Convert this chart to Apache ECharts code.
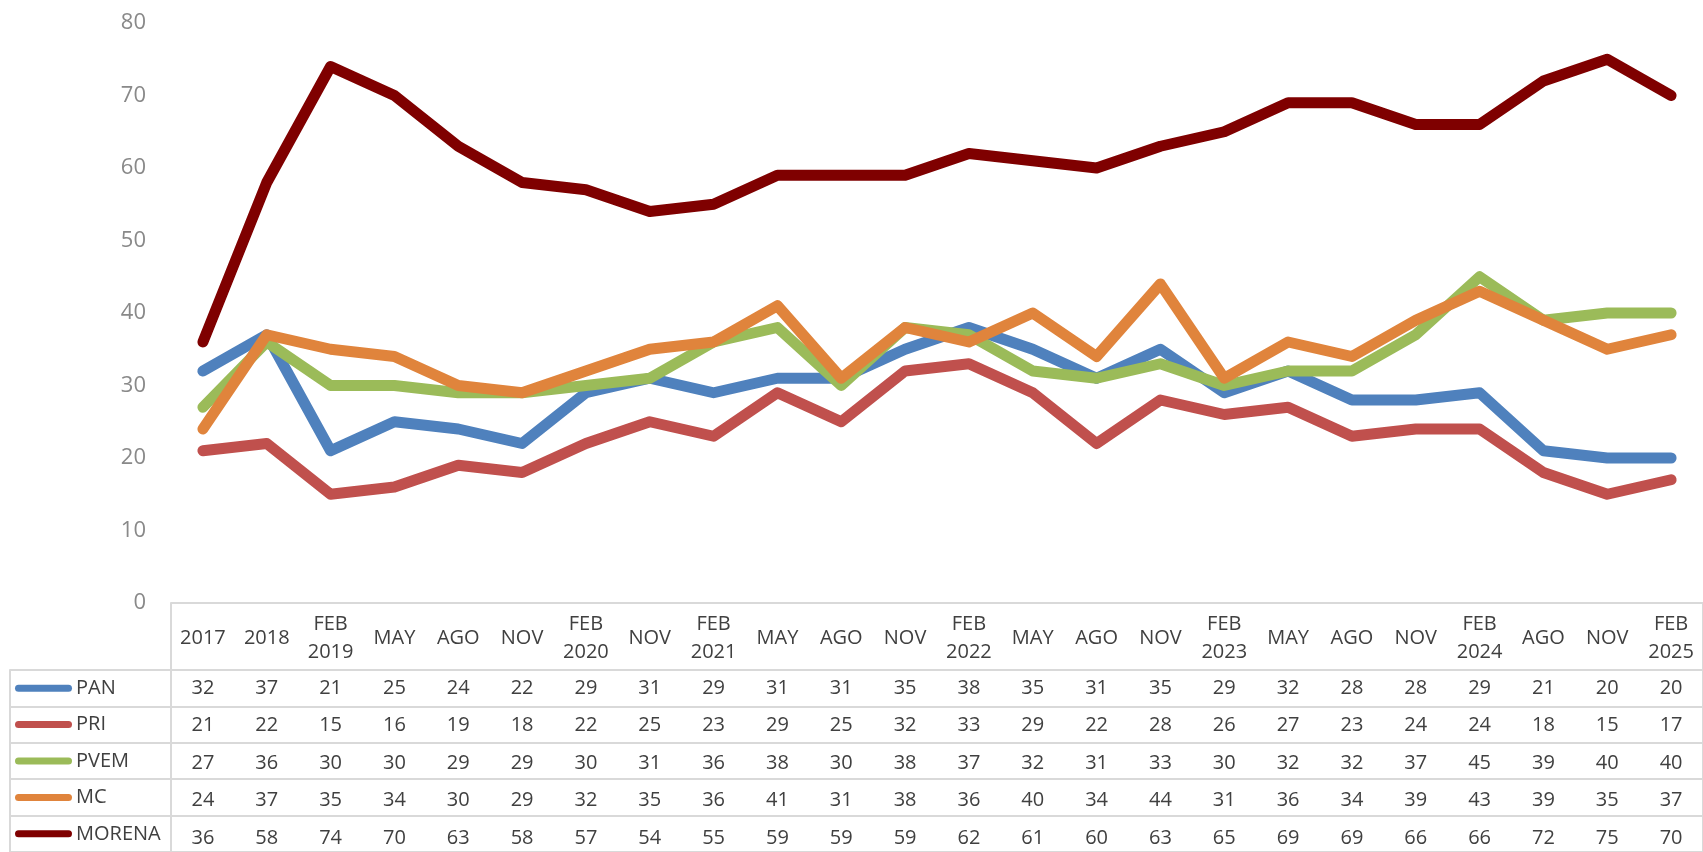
<!DOCTYPE html>
<html>
<head>
<meta charset="utf-8">
<script src="https://cdn.jsdelivr.net/npm/echarts@6/dist/echarts.min.js"></script>
<style>
  html, body { margin: 0; padding: 0; background: #fff; }
  #chartbox { width: 1703px; height: 852px; }
</style>
</head>
<body>
<div id="chartbox"></div>
<script>
var categories = ["2017", "2018", "FEB\n2019", "MAY", "AGO", "NOV", "FEB\n2020", "NOV", "FEB\n2021", "MAY", "AGO", "NOV",
    "FEB\n2022", "MAY", "AGO", "NOV", "FEB\n2023", "MAY", "AGO", "NOV", "FEB\n2024", "AGO", "NOV", "FEB\n2025"];
var pan = [32, 37, 21, 25, 24, 22, 29, 31, 29, 31, 31, 35, 38, 35, 31, 35, 29, 32, 28, 28, 29, 21, 20, 20];
var pri = [21, 22, 15, 16, 19, 18, 22, 25, 23, 29, 25, 32, 33, 29, 22, 28, 26, 27, 23, 24, 24, 18, 15, 17];
var pvem = [27, 36, 30, 30, 29, 29, 30, 31, 36, 38, 30, 38, 37, 32, 31, 33, 30, 32, 32, 37, 45, 39, 40, 40];
var mc = [24, 37, 35, 34, 30, 29, 32, 35, 36, 41, 31, 38, 36, 40, 34, 44, 31, 36, 34, 39, 43, 39, 35, 37];
var morena = [36, 58, 74, 70, 63, 58, 57, 54, 55, 59, 59, 59, 62, 61, 60, 63, 65, 69, 69, 66, 66, 72, 75, 70];
var partyNames = ["PAN", "PRI", "PVEM", "MC", "MORENA"];
var yTicks = [0, 10, 20, 30, 40, 50, 60, 70, 80];

var rows = [pan, pri, pvem, mc, morena];
var colors = ["#4f81bd", "#c0504d", "#9bbb59", "#e0843c", "#7f0000"];
var font = "'Open Sans', 'Noto Sans', sans-serif";
var gridColor = "#d9d9d9";
var textColor = "#404040";
var rowCenters = [85.5, 122.5, 160, 197.5, 235]; // below x axis line

var myChart = echarts.init(document.getElementById("chartbox"));

// one hidden-line x axis per table row, its labels are the values
var valueAxes = rows.map(function (vals, i) {
    return {
        type: "category",
        gridIndex: 0,
        position: "bottom",
        offset: rowCenters[i],
        data: vals.map(String),
        axisLine: { show: false },
        axisTick: { show: false },
        axisLabel: {
            interval: 0,
            margin: 0,
            verticalAlign: "middle",
            color: textColor,
            fontSize: 20,
            fontFamily: font
        }
    };
});

var legendRich = { n: { color: textColor, fontSize: 20, fontFamily: font, padding: [0, 0, 0, 4] } };
partyNames.forEach(function (p, i) {
    legendRich["m" + i] = { width: 57, height: 7, backgroundColor: colors[i], borderRadius: 4 };
});

var option = {
    animation: false,
    grid: [
        { left: 171, width: 1542, top: 23, height: 580 },
        { left: 10, width: 1710, top: 670, height: 187.5 }
    ],
    xAxis: [
        {
            type: "category",
            gridIndex: 0,
            data: categories,
            boundaryGap: true,
            axisLine: { lineStyle: { color: gridColor, width: 2 } },
            axisTick: {
                show: true,
                length: 260,
                interval: function (index) { return index === 0; },
                lineStyle: { color: gridColor, width: 2 }
            },
            axisLabel: {
                interval: 0,
                margin: 35,
                verticalAlign: "middle",
                lineHeight: 28,
                color: textColor,
                fontSize: 20,
                fontFamily: font
            }
        }
    ].concat(valueAxes).concat([
        { type: "value", gridIndex: 1, show: false }
    ]),
    yAxis: [
        {
            type: "value",
            gridIndex: 0,
            min: yTicks[0],
            max: yTicks[yTicks.length - 1],
            interval: 10,
            axisLine: { show: false },
            axisTick: { show: false },
            splitLine: { show: false },
            axisLabel: { margin: 25, color: "#898989", fontSize: 22, fontFamily: font }
        },
        {
            type: "category",
            gridIndex: 1,
            inverse: true,
            data: partyNames,
            axisLine: { show: true, lineStyle: { color: gridColor, width: 2 } },
            axisTick: { show: false },
            splitLine: { show: true, lineStyle: { color: gridColor, width: 2 } },
            axisLabel: {
                inside: true,
                margin: 5,
                formatter: function (v, i) { return "{m" + i + "|}{n|" + v + "}"; },
                rich: legendRich
            }
        }
    ],
    series: rows.map(function (vals, i) {
        return {
            name: partyNames[i],
            type: "line",
            xAxisIndex: 0,
            yAxisIndex: 0,
            data: vals,
            showSymbol: false,
            lineStyle: { width: 11, color: colors[i], cap: "round", join: "round" }
        };
    })
};
option && myChart.setOption(option);
</script>
</body>
</html>
